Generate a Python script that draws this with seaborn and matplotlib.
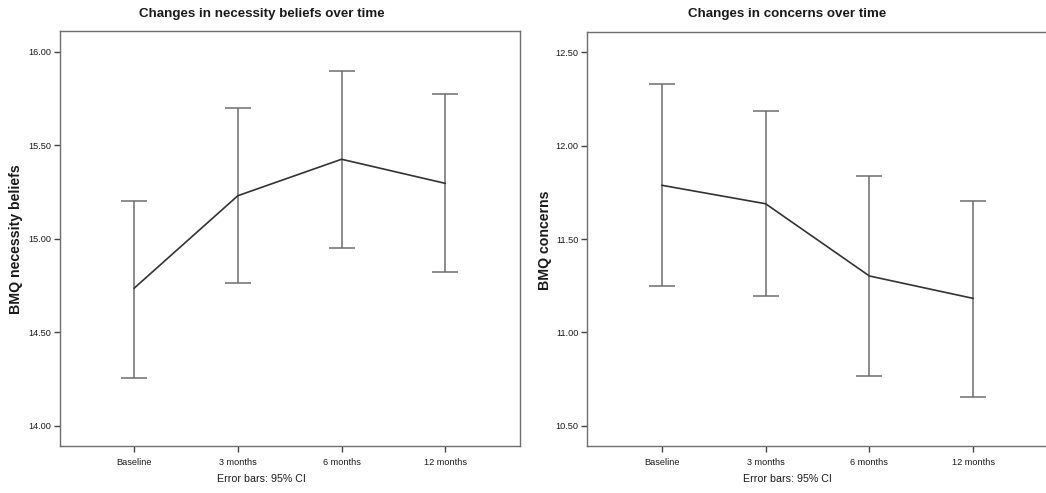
import matplotlib
matplotlib.use("Agg")
import matplotlib.pyplot as plt
import seaborn as sns
import pandas as pd

# Time points
timepoints = ["Baseline", "3 months", "6 months", "12 months"]

# BMQ necessity beliefs: means and 95% CI bounds
necessity_mean = [14.735, 15.230, 15.425, 15.296]
necessity_low = [14.257, 14.762, 14.952, 14.820]
necessity_high = [15.203, 15.697, 15.898, 15.772]

# BMQ concerns: means and 95% CI bounds
concerns_mean = [11.788, 11.689, 11.302, 11.182]
concerns_low = [11.247, 11.196, 10.766, 10.655]
concerns_high = [12.330, 12.186, 11.837, 11.705]

necessity_ticks = [14.0, 14.5, 15.0, 15.5, 16.0]
concerns_ticks = [10.5, 11.0, 11.5, 12.0, 12.5]

sns.set_style("ticks")
plt.rcParams["font.family"] = ["Liberation Sans", "DejaVu Sans"]

W, H = 1046, 493
fig = plt.figure(figsize=(W / 100, H / 100), dpi=100)

LINE = "#333333"
BAR = "#6e6e6e"
SPINE = "#6e6e6e"
TEXT = "#1a1a1a"


def px_axes(x0, y0, x1, y1):
    return fig.add_axes([x0 / W, 1 - y1 / H, (x1 - x0) / W, (y1 - y0) / H])


def draw_panel(ax, mean, low, high, ticks, ylim, xlim):
    df = pd.DataFrame({"time": timepoints, "mean": mean,
                       "low": low, "high": high})
    df["pos"] = range(len(df))
    ax.errorbar(df["pos"], df["mean"],
                yerr=[df["mean"] - df["low"], df["high"] - df["mean"]],
                fmt="none", ecolor=BAR, elinewidth=1.1, capsize=9.2,
                capthick=1.1, zorder=2)
    sns.lineplot(data=df, x="pos", y="mean", ax=ax, color=LINE,
                 linewidth=1.2, zorder=3)
    ax.set_xlim(*xlim)
    ax.set_ylim(*ylim)
    ax.set_xticks(df["pos"])
    ax.set_xticklabels(timepoints)
    ax.set_yticks(ticks)
    ax.set_yticklabels([f"{t:.2f}" for t in ticks])
    ax.set_xlabel("")
    ax.set_ylabel("")
    for s in ax.spines.values():
        s.set_color(SPINE)
        s.set_linewidth(1.0)
    ax.tick_params(axis="both", direction="out", length=4.5, width=1.0,
                   color="#444444", labelsize=6.6, labelcolor=TEXT, pad=1.5)
    ax.tick_params(axis="x", pad=4)


ax1 = px_axes(60, 31, 520, 445.7)
draw_panel(ax1, necessity_mean, necessity_low, necessity_high,
           necessity_ticks, (13.893, 16.111), (-0.714, 3.72))

ax2 = px_axes(586.7, 32, 1048, 445.7)
draw_panel(ax2, concerns_mean, concerns_low, concerns_high,
           concerns_ticks, (10.393, 12.609), (-0.723, 3.72))

# Titles, axis labels and footnotes
fig.text(262 / W, 1 - 14 / H, "Changes in necessity beliefs over time",
         ha="center", va="center", fontsize=9.6, fontweight="bold", color=TEXT)
fig.text(787 / W, 1 - 14 / H, "Changes in concerns over time",
         ha="center", va="center", fontsize=9.6, fontweight="bold", color=TEXT)
fig.text(16 / W, 1 - 239 / H, "BMQ necessity beliefs", rotation=90,
         ha="center", va="center", fontsize=10.2, fontweight="bold", color=TEXT)
fig.text(545 / W, 1 - 240 / H, "BMQ concerns", rotation=90,
         ha="center", va="center", fontsize=10.2, fontweight="bold", color=TEXT)
fig.text(261 / W, 1 - 479 / H, "Error bars: 95% CI",
         ha="center", va="center", fontsize=7.7, color=TEXT)
fig.text(787.5 / W, 1 - 479 / H, "Error bars: 95% CI",
         ha="center", va="center", fontsize=7.7, color=TEXT)

fig.savefig("out.png", dpi=100)
